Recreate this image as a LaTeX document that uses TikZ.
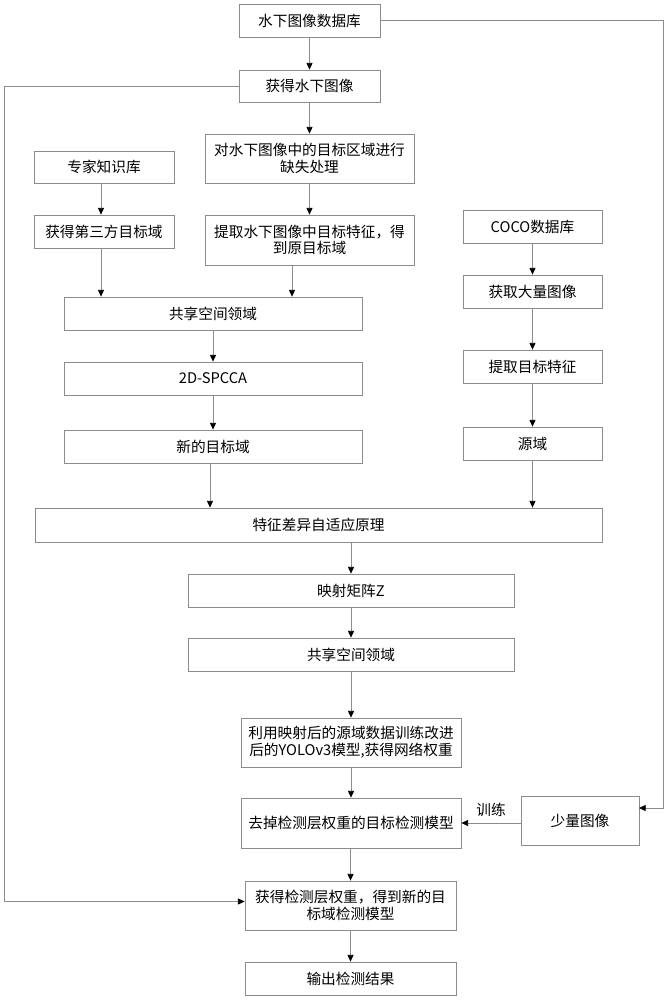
\documentclass[tikz,border=0pt]{standalone}
\usepackage{fontspec}
\setmainfont{Noto Sans CJK SC}
\usetikzlibrary{arrows.meta}
\definecolor{edge}{gray}{0.55}
\tikzset{
  box/.style={draw=edge, line width=0.6pt, inner sep=0pt, align=center, font=\fontsize{11}{12.5}\selectfont},
  conn/.style={draw=edge, line width=0.6pt, -{Triangle[width=4.5pt,length=5pt,color=black]}},
  plain/.style={draw=edge, line width=0.6pt}
}
\begin{document}
\begin{tikzpicture}[x=0.75pt,y=-0.75pt]
\useasboundingbox (0,0) rectangle (669,1000);
% nodes
\node[box, minimum width=105.75pt, minimum height=24.75pt] (db) at (309.5,20.5) {水下图像数据库};
\node[box, minimum width=105.75pt, minimum height=24pt] (get) at (309.5,86) {获得水下图像};
\node[box, minimum width=156.75pt, minimum height=36.75pt] (miss) at (309.5,158.5) {对水下图像中的目标区域进行\\缺失处理};
\node[box, minimum width=105pt, minimum height=24pt] (expert) at (104,167) {专家知识库};
\node[box, minimum width=105pt, minimum height=24.75pt] (third) at (104,231.5) {获得第三方目标域};
\node[box, minimum width=156.75pt, minimum height=37.5pt] (extract) at (309.5,240) {提取水下图像中目标特征，得\\到原目标域};
\node[box, minimum width=104.25pt, minimum height=24.75pt] (coco) at (532.5,226.5) {COCO数据库};
\node[box, minimum width=104.25pt, minimum height=24.75pt] (many) at (532.5,291.5) {获取大量图像};
\node[box, minimum width=223.5pt, minimum height=24.75pt] (share1) at (213,313.5) {共享空间领域};
\node[box, minimum width=104.25pt, minimum height=24.75pt] (feat) at (532.5,366.5) {提取目标特征};
\node[box, minimum width=223.5pt, minimum height=24.75pt] (spcca) at (213,378.5) {2D-SPCCA};
\node[box, minimum width=223.5pt, minimum height=24.75pt] (newt) at (213,446.5) {新的目标域};
\node[box, minimum width=104.25pt, minimum height=24.75pt] (src) at (532.5,443.5) {源域};
\node[box, minimum width=425.25pt, minimum height=25.5pt] (adapt) at (318.5,525) {特征差异自适应原理};
\node[box, minimum width=244.5pt, minimum height=24.75pt] (mapz) at (351,590.5) {映射矩阵Z};
\node[box, minimum width=244.5pt, minimum height=24.75pt] (share2) at (351,654.5) {共享空间领域};
\node[box, minimum width=165pt, minimum height=36.75pt] (train) at (351,742.5) {利用映射后的源域数据训练改进\\后的YOLOv3模型,获得网络权重};
\node[box, minimum width=165pt, minimum height=37.5pt] (remove) at (351,823) {去掉检测层权重的目标检测模型};
\node[box, minimum width=88.5pt, minimum height=36.75pt] (few) at (580,820.5) {少量图像};
\node[box, minimum width=158.25pt, minimum height=36.75pt] (newmodel) at (350.5,905.5) {获得检测层权重，得到新的目\\标域检测模型};
\node[box, minimum width=158.25pt, minimum height=24.75pt] (out) at (350.5,978.5) {输出检测结果};
% helper coordinates
\coordinate (xL) at (4,0);
\coordinate (xR) at (663,0);
\coordinate (ex) at (292,0);
\coordinate (lx) at (101,0);
\coordinate (nx) at (210,0);
\coordinate (fewin) at (639,808);
\coordinate (rr) at (663,808);
\coordinate (ll) at (4,901.5);
% connectors
\draw[conn] (db) -- (get);
\draw[conn] (get) -- (miss);
\draw[conn] (miss) -- (extract);
\draw[conn] (expert.south -| lx) -- (third.north -| lx);
\draw[conn] (third.south -| lx) -- (share1.north -| lx);
\draw[conn] (extract.south -| ex) -- (share1.north -| ex);
\draw[conn] (coco) -- (many);
\draw[conn] (many) -- (feat);
\draw[conn] (feat) -- (src);
\draw[conn] (share1) -- (spcca);
\draw[conn] (spcca) -- (newt);
\draw[conn] (newt.south -| nx) -- (adapt.north -| nx);
\draw[conn] (src.south) -- (adapt.north -| src.south);
\draw[conn] (adapt.south -| mapz.north) -- (mapz.north);
\draw[conn] (mapz) -- (share2);
\draw[conn] (share2) -- (train);
\draw[conn] (train) -- (remove);
\draw[conn] (remove.south -| newmodel.north) -- (newmodel.north);
\draw[conn] (newmodel) -- (out);
\draw[conn] (get.west) -- (get.west -| xL) -- (ll) -- (newmodel.west |- ll);
\draw[conn] (db.east) -- (db.east -| xR) -- (rr) -- (fewin);
\draw[conn] (few.west |- remove.east) -- node[above=1pt, font=\fontsize{11}{12}\selectfont] (lbl) {训练} (remove.east);
\end{tikzpicture}
\end{document}
